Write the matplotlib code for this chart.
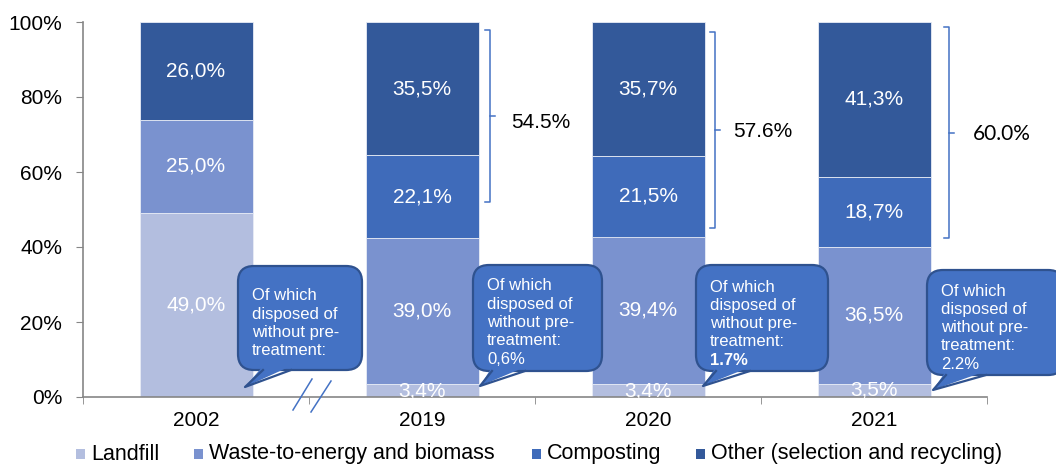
import matplotlib.pyplot as plt
import matplotlib.transforms as mtransforms
from matplotlib.patches import FancyBboxPatch, Polygon, Rectangle
from matplotlib.lines import Line2D

plt.rcParams["font.family"] = ["Liberation Sans", "DejaVu Sans"]

years = ["2002", "2019", "2020", "2021"]
landfill = [49.0, 3.4, 3.4, 3.5]
waste_to_energy = [25.0, 39.0, 39.4, 36.5]
composting = [0.0, 22.1, 21.5, 18.7]
other = [26.0, 35.5, 35.7, 41.3]

series_names = ["Landfill", "Waste-to-energy and biomass", "Composting",
                "Other (selection and recycling)"]
series_colors = ["#B3BEDF", "#7A92CF", "#3F6BBA", "#33599A"]

# share "of which disposed of without pre-treatment" (text of the callouts)
untreated = ["", "0,6%", "1.7%", "2.2%"]
# composting + other, shown with brackets for 2019-2021
recycled_share = ["54.5%", "57.6%", "60.0%"]

W, H = 1056, 466
fig = plt.figure(figsize=(W / 100, H / 100), dpi=100)
ax = fig.add_axes([83 / W, 69 / H, 904 / W, 375 / H])

x = list(range(len(years)))
bottom = [0.0] * len(years)
for name, vals, col in zip(series_names, [landfill, waste_to_energy, composting, other], series_colors):
    ax.bar(x, vals, width=0.5, bottom=bottom, color=col, edgecolor="#E8ECF6",
           linewidth=0.6, label=name, zorder=2)
    for i, v in enumerate(vals):
        if v > 0:
            ax.text(i, bottom[i] + v / 2, f"{v:.1f}".replace(".", ",") + "%",
                    ha="center", va="center", color="white", fontsize=15, zorder=3)
    bottom = [b + v for b, v in zip(bottom, vals)]

ax.set_xlim(-0.5, 3.5)
ax.set_ylim(0, 100)
ax.set_yticks(range(0, 101, 20))
ax.set_yticklabels([f"{t}%" for t in range(0, 101, 20)], fontsize=15)
ax.set_xticks(x)
ax.set_xticklabels(years, fontsize=15)
ax.set_xticks([-0.5, 0.5, 1.5, 2.5, 3.5], minor=True)
ax.tick_params(axis="x", which="major", length=0, pad=10)
ax.tick_params(axis="x", which="minor", length=5, color="#868686", direction="out")
ax.tick_params(axis="y", length=5, color="#868686", pad=10)
for s in ["top", "right"]:
    ax.spines[s].set_visible(False)
for s in ["left", "bottom"]:
    ax.spines[s].set_color("#868686")
    ax.spines[s].set_linewidth(1.2)

# brackets for composting + other
bracket_color = "#4472C4"
brackets = [(1.301, 97.9, 52.0, 74.9), (2.296, 97.3, 45.1, 71.2), (3.332, 98.7, 42.4, 70.4)]
text_x = [1.394, 2.376, 3.438]
text_y = [73.3, 70.9, 70.1]
for (bx, top, bot, mid), label, tx, ty in zip(brackets, recycled_share, text_x, text_y):
    d = 0.022
    ax.plot([bx - d, bx, bx, bx - d], [top, top, bot, bot], color=bracket_color,
            lw=1.1, clip_on=False)
    ax.plot([bx, bx + d], [mid, mid], color=bracket_color, lw=1.1, clip_on=False)
    fam = ["Lato", "DejaVu Sans"] if label == "60.0%" else None
    ax.text(tx, ty, label, ha="left", va="center", fontsize=15, color="black",
            family=fam, clip_on=False)

# callout bubbles in image pixel coordinates
pix = mtransforms.Affine2D().scale(1, -1).translate(0, H)
fill_c, edge_c = "#4472C4", "#2F528F"
bubbles = [
    # left, top, right, bottom, base0, base1, tip
    (238, 266, 362, 370, 263, 291, (245, 387)),
    (473, 265, 602, 371, 492, 525, (480, 386)),
    (696, 265, 828, 371, 716, 750, (703, 386)),
    (927, 270, 1064, 375, 946, 986, (933, 390)),
]
text_pos = [(252, 296), (487, 286), (710, 287), (941, 291)]
base_lines = ["Of which", "disposed of", "without pre-", "treatment:"]
for (l, t, r, b, b0, b1, tip), (tx, ty), extra in zip(bubbles, text_pos, untreated):
    fig.add_artist(FancyBboxPatch((l, t), r - l, b - t,
                                  boxstyle="round,pad=0,rounding_size=16",
                                  facecolor=fill_c, edgecolor=edge_c, lw=1.6,
                                  transform=pix, zorder=5))
    fig.add_artist(Polygon([(b0, b - 4), tip, (b1, b - 4)], closed=True,
                           facecolor=fill_c, edgecolor="none", transform=pix, zorder=6))
    fig.add_artist(Line2D([b0, tip[0], b1], [b, tip[1], b], color=edge_c, lw=1.6,
                          transform=pix, zorder=6))
    lines = base_lines + ([extra] if extra else [])
    for k, line in enumerate(lines):
        weight = "bold" if line == "1.7%" else "normal"
        fig.text(tx, ty + 18.3 * k, line, transform=pix, ha="left", va="center",
                 color="white", fontsize=12, fontweight=weight, zorder=7)

# axis break marks between 2002 and 2019
for (x0, y0, x1, y1) in [(293, 410, 312, 379), (311, 412, 331, 381)]:
    fig.add_artist(Line2D([x0, x1], [y0, y1], color="#4472C4", lw=1.1,
                          transform=pix, zorder=5))

# legend, one entry at a time to keep the original spacing
legend_x = [76, 194, 532, 696]
for lx, name, col in zip(legend_x, series_names, series_colors):
    fig.add_artist(Rectangle((lx, 449), 9, 10, facecolor=col, edgecolor="none",
                             transform=pix))
    fig.text(lx + 15, 454, name, transform=pix, ha="left", va="center",
             fontsize=15.5, color="black")

fig.savefig("out.png", dpi=100)
